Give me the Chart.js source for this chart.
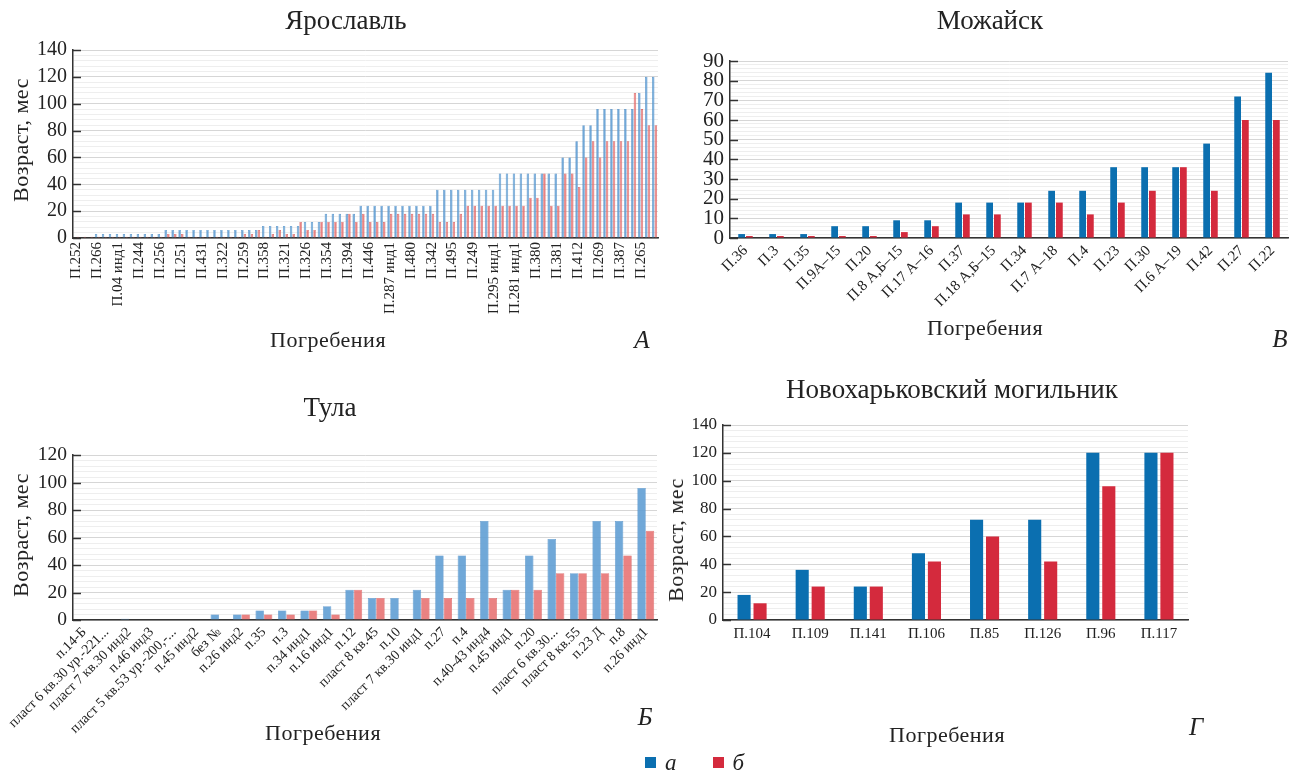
<!DOCTYPE html>
<html lang="ru">
<head>
<meta charset="utf-8">
<script src="https://cdn.jsdelivr.net/npm/chart.js@4.4.1/dist/chart.umd.min.js"></script>
<style>
  body { margin: 0; width: 1300px; height: 773px; background: #fff; position: relative; overflow: hidden;
         font-family: "Liberation Serif", serif; color: #222; }
  canvas { position: absolute; }
  .txt { position: absolute; white-space: nowrap; transform: translate(-50%, -50%); }
  .ttl { font-size: 27px; }
  .ax { font-size: 22px; letter-spacing: 0.5px; }
  .vert { transform: translate(-50%, -50%) rotate(-90deg); }
  .let { font-style: italic; font-size: 25px; }
  #legend { position: absolute; left: 645px; top: 750px; font-size: 23px; font-style: italic; display: flex; }
  #legend span.sw { display: inline-block; width: 11px; height: 11px; margin: 7px 9px 0 0; }
  #legend div { display: flex; margin-right: 36px; }
</style>
</head>
<body>
<canvas id="yar" width="680" height="365" style="left:0;top:0"></canvas>
<canvas id="moz" width="620" height="365" style="left:680px;top:0"></canvas>
<canvas id="tula" width="680" height="385" style="left:0;top:385px"></canvas>
<canvas id="novo" width="620" height="385" style="left:680px;top:385px"></canvas>

<div class="txt ttl" style="left:346px;top:20px">Ярославль</div>
<div class="txt ttl" style="left:990px;top:20px">Можайск</div>
<div class="txt ttl" style="left:330px;top:407px">Тула</div>
<div class="txt ttl" style="left:952px;top:389px">Новохарьковский могильник</div>

<div class="txt ax vert" style="left:21px;top:140px">Возраст, мес</div>
<div class="txt ax vert" style="left:21px;top:535px">Возраст, мес</div>
<div class="txt ax vert" style="left:676px;top:540px">Возраст, мес</div>

<div class="txt ax" style="left:328px;top:340px">Погребения</div>
<div class="txt ax" style="left:985px;top:328px">Погребения</div>
<div class="txt ax" style="left:323px;top:733px">Погребения</div>
<div class="txt ax" style="left:947px;top:735px">Погребения</div>

<div class="txt let" style="left:642px;top:340px">А</div>
<div class="txt let" style="left:1280px;top:339px">В</div>
<div class="txt let" style="left:645px;top:717px">Б</div>
<div class="txt let" style="left:1196px;top:727px">Г</div>

<div id="legend"></div>

<script>
// series: а (blue), б (red)
const seriesNames = ['а', 'б'];

// Ярославль — every third burial is labelled on the axis
const yarNames = ['П.252', 'П.266', 'П.04 инд1', 'П.244', 'П.256', 'П.251', 'П.431', 'П.322', 'П.259',
  'П.358', 'П.321', 'П.326', 'П.354', 'П.394', 'П.446', 'П.287 инд1', 'П.480', 'П.342', 'П.495',
  'П.249', 'П.295 инд1', 'П.281 инд1', 'П.380', 'П.381', 'П.412', 'П.269', 'П.387', 'П.265'];
const yarA = [0, 0, 0,
  3, 3, 3, 3, 3, 3, 3, 3, 3, 3,
  6, 6, 6, 6, 6, 6, 6, 6, 6, 6, 6, 6, 6, 6,
  9, 9, 9, 9, 9, 9,
  12, 12, 12,
  18, 18, 18, 18, 18,
  24, 24, 24, 24, 24, 24, 24, 24, 24, 24, 24,
  36, 36, 36, 36, 36, 36, 36, 36, 36,
  48, 48, 48, 48, 48, 48, 48, 48, 48,
  60, 60, 72, 84, 84,
  96, 96, 96, 96, 96, 96,
  108, 120, 120];
const yarB = [1, 1, 1,
  1, 1, 1, 1, 1, 1, 1, 1, 1, 1,
  3, 3, 3, 1, 1, 1, 1, 1, 1, 1, 1, 3, 3, 6, 1,
  3, 6, 3, 3, 12,
  6, 6, 12,
  12, 12, 12, 18, 12,
  18, 12, 12, 12,
  18, 18, 18, 18, 18, 18, 18,
  12, 12, 12, 18,
  24, 24, 24, 24, 24, 24, 24, 24, 24,
  30, 30, 48, 24, 24, 48, 48, 38,
  60, 72, 60, 72, 72, 72, 72,
  108, 96, 84, 84];
const yarLabels = yarA.map((_, i) => i % 3 === 0 ? yarNames[i / 3] : '');

// Можайск
const mozLabels = ['П.36', 'П.3', 'П.35', 'П.9А–15', 'П.20', 'П.8 А,Б–15', 'П.17 А–16', 'П.37', 'П.18 А,Б–15',
  'П.34', 'П.7 А–18', 'П.4', 'П.23', 'П.30', 'П.6 А–19', 'П.42', 'П.27', 'П.22'];
const mozA = [2, 2, 2, 6, 6, 9, 9, 18, 18, 18, 24, 24, 36, 36, 36, 48, 72, 84];
const mozB = [1, 1, 1, 1, 1, 3, 6, 12, 12, 18, 18, 12, 18, 24, 36, 24, 60, 60];

// Тула
const tulaLabels = ['п.14-Б', 'пласт 6 кв.30 ур.-221...', 'пласт 7 кв.30 инд2', 'п.46 инд3',
  'пласт 5 кв.53 ур.-200,-...', 'п.45 инд2', 'без №', 'п.26 инд2', 'п.35', 'п.3', 'п.34 инд1',
  'п.16 инд1', 'п.12', 'пласт 8 кв.45', 'п.10', 'пласт 7 кв.30 инд1', 'п.27', 'п.4', 'п.40-43 инд4',
  'п.45 инд1', 'п.20', 'пласт 6 кв.30...', 'пласт 8 кв.55', 'п.23 Д', 'п.8', 'п.26 инд1'];
const tulaA = [0, 0, 1, 0, 0, 0, 4, 4, 7, 7, 7, 10, 22, 16, 16, 22, 47, 47, 72, 22, 47, 59, 34, 72, 72, 96];
const tulaB = [0, 0, 0, 0, 0, 0, 0, 4, 4, 4, 7, 4, 22, 16, 0, 16, 16, 16, 16, 22, 22, 34, 34, 34, 47, 65];

// Новохарьковский могильник
const novoLabels = ['П.104', 'П.109', 'П.141', 'П.106', 'П.85', 'П.126', 'П.96', 'П.117'];
const novoA = [18, 36, 24, 48, 72, 72, 120, 120];
const novoB = [12, 24, 24, 42, 60, 42, 96, 120];

const solid = ['#0b6fb0', '#d42a3d'];
const pale = ['rgba(96,158,212,0.9)', 'rgba(232,116,116,0.9)'];
const paleEdge = ['#4f8dc6', '#d45c5c'];

// short tick marks pointing into the plot at the labelled values
const innerTicks = {
  id: 'innerTicks',
  afterDraw(chart, args, opts) {
    const { ctx, chartArea, scales: { y } } = chart;
    ctx.save();
    ctx.strokeStyle = '#333';
    ctx.lineWidth = 1.5;
    y.ticks.forEach(t => {
      if (t.value % opts.major !== 0) return;
      const py = Math.round(y.getPixelForValue(t.value)) + 0.5;
      ctx.beginPath();
      ctx.moveTo(chartArea.left, py);
      ctx.lineTo(chartArea.left + 8, py);
      ctx.stroke();
    });
    ctx.restore();
  }
};

function barChart(id, o) {
  return new Chart(document.getElementById(id), {
    type: 'bar',
    data: {
      labels: o.labels,
      datasets: [o.a, o.b].map((d, k) => ({
        label: seriesNames[k],
        data: d,
        backgroundColor: o.fill[k],
        borderColor: o.edge[k],
        borderWidth: o.bw,
        categoryPercentage: o.cat,
        barPercentage: o.bar
      }))
    },
    options: {
      responsive: false,
      animation: false,
      layout: { padding: o.pad },
      plugins: { legend: { display: false }, tooltip: { enabled: false }, innerTicks: { major: o.major } },
      scales: {
        x: {
          grid: { display: false, drawTicks: false },
          border: { color: '#333', width: 1.5 },
          ticks: { autoSkip: false, minRotation: o.rot, maxRotation: o.rot, padding: o.xPad, color: '#222',
                   font: { family: 'Liberation Serif', size: o.xFont } },
          afterFit(s) { s.height = o.xh; }
        },
        y: {
          min: 0, max: o.max,
          grid: { drawTicks: false, color: c => c.tick && c.tick.value % o.major === 0 ? '#d6d6d6' : '#eeeeee' },
          border: { color: '#333', width: 1.5 },
          ticks: { stepSize: o.minor, autoSkip: false, padding: 6, color: '#222',
                   font: { family: 'Liberation Serif', size: o.yFont },
                   callback: v => v % o.major === 0 ? v : '' },
          afterFit(s) { s.width = o.yw; }
        }
      }
    },
    plugins: [innerTicks]
  });
}

barChart('yar', { labels: yarLabels, a: yarA, b: yarB, fill: pale, edge: paleEdge, bw: 0.6,
  cat: 0.75, bar: 0.95, pad: { top: 50, right: 22, left: 0, bottom: 0 }, major: 20, minor: 4, max: 140,
  rot: 90, xPad: 4, xFont: 15, xh: 127, yw: 73, yFont: 20 });

barChart('moz', { labels: mozLabels, a: mozA, b: mozB, fill: solid, edge: solid, bw: 0,
  cat: 0.5, bar: 0.87, pad: { top: 61, right: 12, left: 0, bottom: 0 }, major: 10, minor: 2, max: 90,
  rot: 45, xPad: 4, xFont: 15, xh: 127, yw: 50, yFont: 21 });

barChart('tula', { labels: tulaLabels, a: tulaA, b: tulaB, fill: pale, edge: paleEdge, bw: 0.6,
  cat: 0.75, bar: 1, pad: { top: 70, right: 23, left: 0, bottom: 0 }, major: 20, minor: 4, max: 120,
  rot: 45, xPad: 4, xFont: 14, xh: 150, yw: 73, yFont: 19.5 });

barChart('novo', { labels: novoLabels, a: novoA, b: novoB, fill: solid, edge: solid, bw: 0,
  cat: 0.55, bar: 0.82, pad: { top: 40, right: 112, left: 0, bottom: 0 }, major: 20, minor: 4, max: 140,
  rot: 0, xPad: 5, xFont: 15, xh: 150, yw: 43, yFont: 17 });

// legend
const legend = document.getElementById('legend');
seriesNames.forEach((name, k) => {
  const item = document.createElement('div');
  item.innerHTML = `<span class="sw" style="background:${solid[k]}"></span>${name}`;
  legend.appendChild(item);
});
</script>
</body>
</html>
